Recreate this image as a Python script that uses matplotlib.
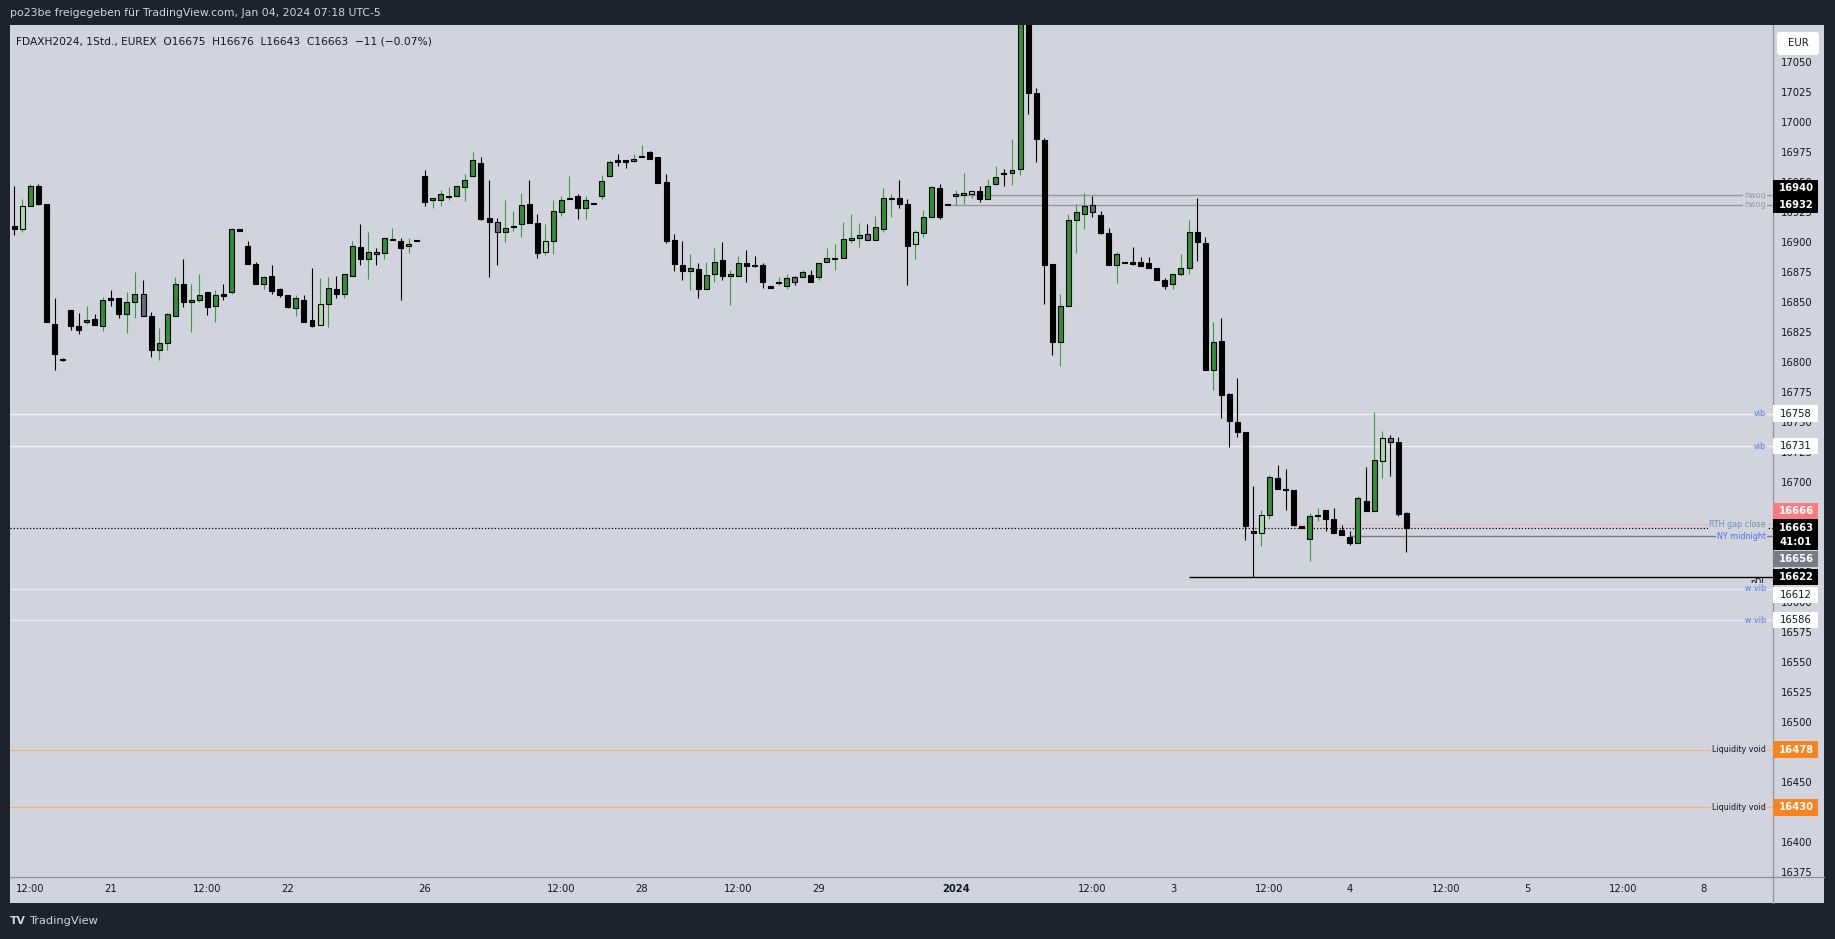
import matplotlib
matplotlib.use("Agg")
import matplotlib.pyplot as plt
import matplotlib.transforms as mtrans
from matplotlib import font_manager
from matplotlib.patches import Rectangle, FancyBboxPatch
import numpy as np

# FDAXH2024, 1h bars (EUREX), Dec 20 2023 10:00 .. Jan 04 2024 07:00, UTC-5
opens = [16914, 16912, 16931, 16948, 16933, 16833, 16803, 16844, 16831, 16834,
         16837, 16831, 16854, 16854, 16841, 16851, 16858, 16839, 16811, 16817,
         16839, 16866, 16851, 16853, 16859, 16848, 16858, 16859, 16911, 16898,
         16883, 16866, 16873, 16862, 16857, 16846, 16853, 16836, 16832, 16849,
         16862, 16858, 16873, 16897, 16887, 16893, 16892, 16903, 16902, 16898,
         16902, 16956, 16936, 16936, 16939, 16939, 16947, 16956, 16967, 16921,
         16918, 16909, 16914, 16916, 16933, 16917, 16893, 16902, 16926, 16937,
         16939, 16929, 16933, 16939, 16956, 16969, 16969, 16968.5, 16972, 16976,
         16972, 16951, 16903, 16882, 16877, 16878.5, 16862, 16874.5, 16886, 16872.5,
         16873, 16883.5, 16882, 16882, 16863.5, 16867, 16864, 16872, 16872, 16873.5,
         16871.5, 16884, 16887, 16887.5, 16903.5, 16904, 16907.5, 16903, 16912, 16937.5,
         16937.5, 16932.5, 16899, 16908.5, 16921.5, 16946, 16932, 16939, 16941, 16941,
         16943.5, 16936.5, 16949, 16958.5, 16958.5, 16961.5, 17105, 17025.5, 16986, 16882.5,
         16817.5, 16847.5, 16919, 16924, 16931.5, 16923.5, 16908.5, 16881.5, 16884, 16884,
         16884, 16883.5, 16879, 16869.5, 16866, 16874, 16879, 16909, 16900, 16794,
         16818.5, 16774, 16751, 16742.5, 16660.5, 16658.5, 16673.5, 16704.5, 16695.5, 16694,
         16663.5, 16653.5, 16673, 16677.5, 16670, 16661, 16655.5, 16650.5, 16685.5, 16676.5,
         16718.5, 16737.5, 16734, 16675]
highs = [16948, 16937, 16949, 16949, 16933, 16854, 16804, 16844, 16842, 16848,
         16841, 16855, 16861, 16854, 16859, 16876, 16869, 16843, 16829, 16842,
         16872, 16887, 16866, 16874, 16859, 16861, 16866, 16913, 16912, 16902,
         16884, 16873, 16882, 16863, 16857, 16857, 16857, 16879, 16871, 16872,
         16873, 16874, 16902, 16916, 16909, 16896, 16904, 16913, 16904, 16904,
         16902, 16961, 16938, 16944, 16947, 16948, 16958, 16976, 16972, 16953,
         16921, 16936, 16927, 16942, 16953, 16924, 16916, 16936, 16939, 16956,
         16941, 16939, 16933, 16957, 16969, 16974, 16969, 16974, 16982, 16977,
         16972, 16957.5, 16908, 16902, 16891, 16883.5, 16884.5, 16896, 16901, 16878,
         16889, 16894, 16889.5, 16883.5, 16863.5, 16872, 16874.5, 16873, 16878, 16878,
         16883.5, 16896, 16899, 16918, 16924.5, 16917, 16916, 16922.5, 16946, 16941,
         16952.5, 16936.5, 16911, 16928, 16948, 16949, 16932, 16944, 16958.5, 16944.5,
         16947.5, 16953.5, 16964.5, 16961.5, 16986.5, 17115, 17118, 17029, 16987.5, 16882.5,
         16858, 16924, 16933, 16942, 16939.5, 16927, 16912.5, 16892.5, 16884, 16897,
         16888.5, 16888.5, 16879, 16871, 16874, 16891, 16919, 16937.5, 16905.5, 16834,
         16838, 16775, 16787.5, 16743, 16697.5, 16678, 16707, 16715, 16712, 16694,
         16663.5, 16675.5, 16679, 16677.5, 16679.5, 16665, 16660, 16689, 16713.5, 16759,
         16743.5, 16740.5, 16738.5, 16676]
lows = [16907, 16909, 16931, 16932, 16834, 16794, 16802, 16828, 16824, 16833,
        16832, 16827, 16848, 16838, 16825, 16838, 16839, 16805, 16803, 16811,
        16839, 16847, 16826, 16851, 16840, 16834, 16853, 16858, 16911, 16883,
        16866, 16862, 16858, 16855, 16846, 16839, 16834, 16830, 16832, 16830,
        16854, 16854, 16873, 16882, 16870, 16882, 16887, 16903, 16853, 16892,
        16902, 16931, 16929, 16931, 16936, 16939, 16935, 16955, 16919, 16872,
        16882, 16901, 16910, 16905, 16917, 16888, 16890, 16891, 16923, 16937,
        16920, 16920, 16933, 16937, 16956, 16964, 16963, 16968, 16972, 16970,
        16950, 16900, 16877, 16869, 16861, 16854, 16862, 16868, 16869, 16848.5,
        16873, 16868, 16880, 16862.5, 16863.5, 16865, 16861.5, 16865, 16872, 16868,
        16869.5, 16884, 16877.5, 16887.5, 16900, 16896.5, 16902.5, 16902.5, 16909, 16922,
        16929, 16865, 16886.5, 16905, 16921.5, 16920, 16932, 16932, 16933, 16938,
        16934, 16936.5, 16948.5, 16948, 16948.5, 16956.5, 17007.5, 16967.5, 16849.5, 16807,
        16798, 16847.5, 16891.5, 16912, 16921.5, 16907.5, 16882, 16867, 16884, 16881.5,
        16881, 16879, 16869, 16861.5, 16862, 16873, 16874.5, 16885, 16794, 16778,
        16754, 16730.5, 16738.5, 16653, 16622, 16647.5, 16670, 16695, 16678, 16664,
        16663.5, 16635, 16668.5, 16660.5, 16658.5, 16656.5, 16648.5, 16650.5, 16676.5, 16676.5,
        16704.5, 16706, 16672.5, 16643]
closes = [16912, 16931, 16948, 16933, 16834, 16808, 16803, 16831, 16828, 16836,
          16832, 16853, 16853, 16841, 16851, 16858, 16839, 16811, 16817, 16841,
          16866, 16851, 16853, 16857, 16847, 16857, 16856, 16912, 16911, 16883,
          16866, 16872, 16860, 16857, 16847, 16854, 16834, 16831, 16849, 16863,
          16858, 16874, 16898, 16887, 16893, 16891, 16904, 16903, 16896, 16899,
          16902, 16934, 16937.5, 16941, 16939, 16948, 16953, 16969, 16920, 16918,
          16909, 16913, 16914, 16932, 16917, 16892, 16902, 16927, 16936, 16938,
          16929, 16936, 16933, 16952, 16968, 16968, 16968, 16970.5, 16972, 16970,
          16950.5, 16901.5, 16882.5, 16877, 16879.5, 16862, 16873.5, 16884.5, 16873, 16874.5,
          16883.5, 16881, 16881, 16867.5, 16863.5, 16867, 16871, 16868, 16876, 16868,
          16883.5, 16887.5, 16887, 16903.5, 16903.5, 16907, 16903, 16913.5, 16937.5, 16937.5,
          16933, 16898, 16909, 16921.5, 16946.5, 16921.5, 16932, 16941, 16941, 16943.5,
          16937, 16947.5, 16955, 16957.5, 16961, 17105, 17025.5, 16986.5, 16881.5, 16818,
          16847.5, 16919, 16926, 16931, 16926, 16908.5, 16882, 16891, 16884, 16882.5,
          16881, 16879, 16869, 16864, 16874, 16879, 16909, 16901, 16794, 16818,
          16773.5, 16752, 16742.5, 16664, 16658.5, 16673.5, 16705.5, 16695, 16694, 16665.5,
          16663.5, 16672.5, 16673, 16670.5, 16658.5, 16656.5, 16650.5, 16687.5, 16676.5, 16719,
          16737.5, 16734.5, 16674, 16663]
# g = up, b = down, l = up (light), s = down (slate)
bar_kind = ("blgbbbbbbg" "bgbbggsbgg" "gbggbgbgbb" "bgbbbgbblg" "bggbgsggbg"
            "bbggggggbb" "sgggbblggg" "bgbggbbggb" "bbbbgbggbg" "gbbbbggsgb"
            "ggggggsggg" "bblggbbggl" "bggbggbbbb" "ggggsbbgbb" "bbbbgggbbg"
            "bbbbblgbbb" "bggbbbbgbg" "lsbb")

tick_idx = [2, 12, 24, 34, 51, 68, 78, 90, 100, 117, 134, 144, 156, 166, 178, 188, 200, 210]
tick_lbl = ["12:00", "21", "12:00", "22", "26", "12:00", "28", "12:00", "29", "2024",
            "12:00", "3", "12:00", "4", "12:00", "5", "12:00", "8"]

level_price = [16940, 16932, 16758, 16731, 16666, 16656, 16622, 16612, 16586, 16478, 16430]
level_name = ["nwog", "nwog", "vib", "vib", "RTH gap close", "NY midnight", "pDL",
              "w vib", "w vib", "Liquidity void", "Liquidity void"]
level_start = [117, 116, None, None, 159, 166, 146, None, None, None, None]
countdown = "41:01"

names = {f.name for f in font_manager.fontManager.ttflist}
if "Liberation Sans Narrow" in names:
    FONT, k = "Liberation Sans Narrow", 1.0
else:
    FONT, k = "DejaVu Sans", 0.78
plt.rcParams["font.family"] = [FONT, "DejaVu Sans"]

BG = "#1e222d"
PANEL = "#d1d4dc"
TXT = "#131722"
SEP = "#8f929c"

W, H = 1835, 939
fig = plt.figure(figsize=(W / 100, H / 100), dpi=100)
fig.patch.set_facecolor(BG)

# pixel overlay for frame, scales, title
fa = fig.add_axes([0, 0, 1, 1])
fa.set_xlim(0, W)
fa.set_ylim(H, 0)
fa.axis("off")
fa.set_zorder(0)
fa.add_patch(Rectangle((10, 25), 1814, 878, facecolor=PANEL, edgecolor="none", zorder=0))
fa.plot([1773, 1773], [25, 903], color=SEP, lw=0.9, zorder=1)
fa.plot([10, 1824], [877, 877], color=SEP, lw=0.9, zorder=1)

# price chart
ax = fig.add_axes([10 / W, 1 - 877 / H, 1763 / W, 852 / H])
ax.set_zorder(1)
ax.axis("off")
ax.set_xlim(-0.534, 218.58)
ax.set_ylim(16371.9, 17081.9)

o = np.array(opens, float)
h = np.array(highs, float)
l = np.array(lows, float)
c = np.array(closes, float)
x = np.arange(len(o))

fill = {"g": "#2f8f35", "b": "#000000", "l": "#a6dba8", "s": "#6a6b78"}
wick = {"g": "#3a9d3c", "b": "#000000", "l": "#3a9d3c", "s": "#000000"}
ax.vlines(x, l, h, colors=[wick[kd] for kd in bar_kind], lw=0.8, zorder=2)
mid = (o + c) / 2
hgt = np.maximum(np.abs(c - o), 1.0)
ax.bar(x, hgt, bottom=mid - hgt / 2, width=0.62, color=[fill[kd] for kd in bar_kind],
       edgecolor="black", linewidth=0.8, zorder=3)

# current price
last = c[-1]
ax.axhline(last, color="black", lw=0.9, ls=(0, (1, 1.6)), zorder=1.5)

style = {
    "nwog": ("#9598a1", 1.0, "#9598a1"),
    "vib": ("#eef0f5", 1.0, "#5a7cf0"),
    "w vib": ("#e9ebf1", 1.0, "#5a7cf0"),
    "RTH gap close": ("#f0b4b4", 0.8, "#6a93b8"),
    "NY midnight": ("#787b86", 1.0, "#4a6ef5"),
    "pDL": ("#000000", 1.0, "#000000"),
    "Liquidity void": ("#f2b07e", 0.8, TXT),
}
tr_lab = mtrans.blended_transform_factory(fa.transData, ax.transData)
xr = ax.get_xlim()[1]
for p, nm, st in zip(level_price, level_name, level_start):
    col, lw, tcol = style[nm]
    x0 = ax.get_xlim()[0] if st is None else st
    ax.hlines(p, x0, xr, color=col, lw=lw, zorder=1)
    va = "top" if nm == "pDL" else "center"
    yy = p - 1 if nm == "pDL" else p
    ax.text(1766, yy, nm, transform=tr_lab, ha="right", va=va, fontsize=7.4 * k, color=tcol,
            zorder=4, bbox=dict(facecolor=PANEL if nm != "pDL" else "none",
                                edgecolor="none", pad=0.8))

# price scale
for p in range(16375, 17051, 25):
    fa.text(1797, p, str(p), transform=tr_lab, ha="center", va="center",
            fontsize=9.2 * k, color=TXT, zorder=2)

box_face = {"nwog": "#000000", "vib": "#ffffff", "w vib": "#ffffff",
            "RTH gap close": "#f77c80", "NY midnight": "#787b86", "pDL": "#000000",
            "Liquidity void": "#f7841e"}
shift_px = {16940: -7, 16666: -13, 16656: 23, 16612: 6}
hb = 8.3 / 1.2
for p, nm in zip(level_price, level_name):
    fc = box_face[nm]
    tc = TXT if fc == "#ffffff" else "white"
    yp = p - shift_px.get(p, 0) / 1.2
    fa.add_patch(Rectangle((1773, yp - hb), 45, 2 * hb, transform=tr_lab,
                           facecolor=fc, edgecolor="none", zorder=3))
    fa.text(1796, yp, str(p), transform=tr_lab, ha="center", va="center",
            fontsize=9.2 * k, color=tc, zorder=4,
            fontweight="normal" if tc == TXT else "bold")
# last price with countdown
fa.add_patch(Rectangle((1773, last - 22.8 / 1.2), 45, 31 / 1.2, transform=tr_lab,
                       facecolor="black", edgecolor="none", zorder=3))
fa.text(1796, last, f"{last:.0f}", transform=tr_lab, ha="center", va="center",
        fontsize=9.2 * k, color="white", fontweight="bold", zorder=4)
fa.text(1796, last - 14 / 1.2, countdown, transform=tr_lab, ha="center", va="center",
        fontsize=9.2 * k, color="white", fontweight="bold", zorder=4)

fa.add_patch(FancyBboxPatch((1777, 32), 42, 23, boxstyle="round,pad=0,rounding_size=3",
                            facecolor="white", edgecolor="none", zorder=5))
fa.text(1798, 43.5, "EUR", ha="center", va="center", fontsize=9.4 * k, color=TXT, zorder=6)

# time scale
tr_time = mtrans.blended_transform_factory(ax.transData, fa.transData)
for ti, tl in zip(tick_idx, tick_lbl):
    fa.text(ti, 889, tl, transform=tr_time, ha="center", va="center", fontsize=9.2 * k,
            color=TXT, fontweight="bold" if tl == "2024" else "normal", zorder=2)

# titles
fa.text(10, 13, "po23be freigegeben für TradingView.com, Jan 04, 2024 07:18 UTC-5",
        ha="left", va="center", fontsize=10 * k, color="#d1d4dc")
chg = c[-1] - c[-2]
pct = chg / c[-2] * 100
sg = "−" if chg < 0 else "+"
hdr = (f"FDAXH2024, 1Std., EUREX  O{o[-1]:.0f}  H{h[-1]:.0f}  L{l[-1]:.0f}  C{c[-1]:.0f}  "
       f"{sg}{abs(chg):.0f} ({sg}{abs(pct):.2f}%)")
fa.text(16, 41, hdr, ha="left", va="center", fontsize=9.8 * k, color=TXT, zorder=2)
fa.text(10, 921, "TV", ha="left", va="center", fontsize=10 * k, color="#d1d4dc",
        fontweight="bold")
fa.text(29, 921, "TradingView", ha="left", va="center", fontsize=10.5 * k, color="#d1d4dc")

fig.savefig("out.png", dpi=100, facecolor=BG)
